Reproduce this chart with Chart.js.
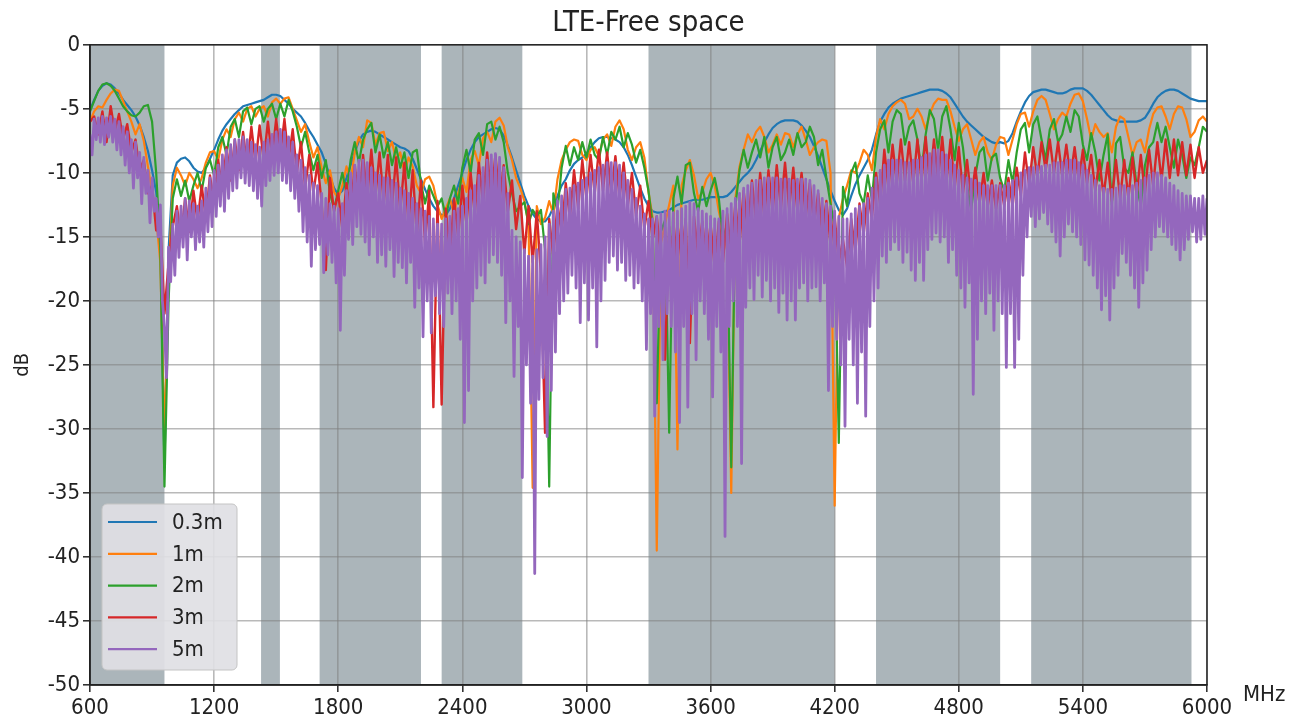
<!DOCTYPE html>
<html><head><meta charset="utf-8">
<script src="https://cdn.jsdelivr.net/npm/chart.js@4.4.1/dist/chart.umd.min.js"></script>
<style>html,body{margin:0;padding:0;background:#fff;}canvas{display:block;}</style>
</head><body>
<canvas id="c" width="1305" height="719"></canvas>
<script>
const FONT = '"DejaVu Sans Condensed", "DejaVu Sans", sans-serif';

// Frequency grid (MHz), 20 MHz step
const freqs = [
600,620,640,660,680,700,720,740,760,780,
800,820,840,860,880,900,920,940,960,980,
1000,1020,1040,1060,1080,1100,1120,1140,1160,1180,
1200,1220,1240,1260,1280,1300,1320,1340,1360,1380,
1400,1420,1440,1460,1480,1500,1520,1540,1560,1580,
1600,1620,1640,1660,1680,1700,1720,1740,1760,1780,
1800,1820,1840,1860,1880,1900,1920,1940,1960,1980,
2000,2020,2040,2060,2080,2100,2120,2140,2160,2180,
2200,2220,2240,2260,2280,2300,2320,2340,2360,2380,
2400,2420,2440,2460,2480,2500,2520,2540,2560,2580,
2600,2620,2640,2660,2680,2700,2720,2740,2760,2780,
2800,2820,2840,2860,2880,2900,2920,2940,2960,2980,
3000,3020,3040,3060,3080,3100,3120,3140,3160,3180,
3200,3220,3240,3260,3280,3300,3320,3340,3360,3380,
3400,3420,3440,3460,3480,3500,3520,3540,3560,3580,
3600,3620,3640,3660,3680,3700,3720,3740,3760,3780,
3800,3820,3840,3860,3880,3900,3920,3940,3960,3980,
4000,4020,4040,4060,4080,4100,4120,4140,4160,4180,
4200,4220,4240,4260,4280,4300,4320,4340,4360,4380,
4400,4420,4440,4460,4480,4500,4520,4540,4560,4580,
4600,4620,4640,4660,4680,4700,4720,4740,4760,4780,
4800,4820,4840,4860,4880,4900,4920,4940,4960,4980,
5000,5020,5040,5060,5080,5100,5120,5140,5160,5180,
5200,5220,5240,5260,5280,5300,5320,5340,5360,5380,
5400,5420,5440,5460,5480,5500,5520,5540,5560,5580,
5600,5620,5640,5660,5680,5700,5720,5740,5760,5780,
5800,5820,5840,5860,5880,5900,5920,5940,5960,5980,
6000];

// Finer grid (MHz), 10 MHz step, for the 5m trace
const freqsFine = [
600,610,620,630,640,650,660,670,680,690,700,710,720,730,740,750,760,770,780,790,
800,810,820,830,840,850,860,870,880,890,900,910,920,930,940,950,960,970,980,990,
1000,1010,1020,1030,1040,1050,1060,1070,1080,1090,1100,1110,1120,1130,1140,1150,1160,1170,1180,1190,
1200,1210,1220,1230,1240,1250,1260,1270,1280,1290,1300,1310,1320,1330,1340,1350,1360,1370,1380,1390,
1400,1410,1420,1430,1440,1450,1460,1470,1480,1490,1500,1510,1520,1530,1540,1550,1560,1570,1580,1590,
1600,1610,1620,1630,1640,1650,1660,1670,1680,1690,1700,1710,1720,1730,1740,1750,1760,1770,1780,1790,
1800,1810,1820,1830,1840,1850,1860,1870,1880,1890,1900,1910,1920,1930,1940,1950,1960,1970,1980,1990,
2000,2010,2020,2030,2040,2050,2060,2070,2080,2090,2100,2110,2120,2130,2140,2150,2160,2170,2180,2190,
2200,2210,2220,2230,2240,2250,2260,2270,2280,2290,2300,2310,2320,2330,2340,2350,2360,2370,2380,2390,
2400,2410,2420,2430,2440,2450,2460,2470,2480,2490,2500,2510,2520,2530,2540,2550,2560,2570,2580,2590,
2600,2610,2620,2630,2640,2650,2660,2670,2680,2690,2700,2710,2720,2730,2740,2750,2760,2770,2780,2790,
2800,2810,2820,2830,2840,2850,2860,2870,2880,2890,2900,2910,2920,2930,2940,2950,2960,2970,2980,2990,
3000,3010,3020,3030,3040,3050,3060,3070,3080,3090,3100,3110,3120,3130,3140,3150,3160,3170,3180,3190,
3200,3210,3220,3230,3240,3250,3260,3270,3280,3290,3300,3310,3320,3330,3340,3350,3360,3370,3380,3390,
3400,3410,3420,3430,3440,3450,3460,3470,3480,3490,3500,3510,3520,3530,3540,3550,3560,3570,3580,3590,
3600,3610,3620,3630,3640,3650,3660,3670,3680,3690,3700,3710,3720,3730,3740,3750,3760,3770,3780,3790,
3800,3810,3820,3830,3840,3850,3860,3870,3880,3890,3900,3910,3920,3930,3940,3950,3960,3970,3980,3990,
4000,4010,4020,4030,4040,4050,4060,4070,4080,4090,4100,4110,4120,4130,4140,4150,4160,4170,4180,4190,
4200,4210,4220,4230,4240,4250,4260,4270,4280,4290,4300,4310,4320,4330,4340,4350,4360,4370,4380,4390,
4400,4410,4420,4430,4440,4450,4460,4470,4480,4490,4500,4510,4520,4530,4540,4550,4560,4570,4580,4590,
4600,4610,4620,4630,4640,4650,4660,4670,4680,4690,4700,4710,4720,4730,4740,4750,4760,4770,4780,4790,
4800,4810,4820,4830,4840,4850,4860,4870,4880,4890,4900,4910,4920,4930,4940,4950,4960,4970,4980,4990,
5000,5010,5020,5030,5040,5050,5060,5070,5080,5090,5100,5110,5120,5130,5140,5150,5160,5170,5180,5190,
5200,5210,5220,5230,5240,5250,5260,5270,5280,5290,5300,5310,5320,5330,5340,5350,5360,5370,5380,5390,
5400,5410,5420,5430,5440,5450,5460,5470,5480,5490,5500,5510,5520,5530,5540,5550,5560,5570,5580,5590,
5600,5610,5620,5630,5640,5650,5660,5670,5680,5690,5700,5710,5720,5730,5740,5750,5760,5770,5780,5790,
5800,5810,5820,5830,5840,5850,5860,5870,5880,5890,5900,5910,5920,5930,5940,5950,5960,5970,5980,5990,
6000];

// Series (dB)
const s03m = [
-5.1,-4.3,-3.6,-3.2,-3.0,-3.1,-3.4,-3.8,-4.3,-4.7,
-5.1,-5.6,-6.3,-7.2,-8.3,-9.8,-11.5,-15.0,-33.0,-16.0,
-10.2,-9.2,-8.9,-8.8,-9.1,-9.6,-9.9,-10.0,-9.6,-8.9,
-8.2,-7.4,-6.7,-6.2,-5.8,-5.4,-5.1,-4.8,-4.7,-4.6,
-4.5,-4.4,-4.3,-4.1,-3.9,-3.9,-4.0,-4.3,-4.6,-5.0,
-5.3,-5.6,-6.1,-6.7,-7.2,-7.8,-8.4,-9.3,-10.3,-11.2,
-11.7,-11.4,-10.4,-9.4,-8.4,-7.5,-7.0,-6.8,-6.7,-6.8,
-7.0,-7.2,-7.4,-7.6,-7.8,-8.0,-8.1,-8.3,-8.9,-9.7,
-10.5,-11.3,-12.0,-12.6,-13.0,-13.3,-13.3,-12.8,-12.0,-11.0,
-10.0,-9.0,-8.2,-7.6,-7.2,-7.0,-6.8,-6.6,-6.5,-6.6,
-7.1,-7.9,-8.8,-9.8,-10.8,-11.8,-12.6,-13.2,-13.6,-13.8,
-13.8,-13.4,-12.7,-11.8,-11.0,-10.5,-9.8,-9.3,-9.0,-8.8,
-8.5,-8.0,-7.6,-7.3,-7.2,-7.2,-7.3,-7.4,-7.6,-8.0,
-8.6,-9.4,-10.3,-11.2,-12.0,-12.6,-13.0,-13.1,-13.1,-13.0,
-12.9,-12.7,-12.5,-12.4,-12.3,-12.2,-12.1,-12.1,-12.1,-12.0,
-11.9,-11.9,-11.9,-11.9,-11.8,-11.5,-11.1,-10.7,-10.3,-10.0,
-9.6,-9.0,-8.3,-7.6,-7.0,-6.5,-6.2,-6.0,-5.9,-5.9,
-5.9,-6.0,-6.3,-6.7,-7.2,-7.9,-8.7,-9.6,-10.5,-11.4,
-12.2,-12.9,-13.3,-12.8,-11.8,-10.9,-10.2,-9.6,-9.0,-8.2,
-7.0,-6.0,-5.4,-4.9,-4.6,-4.4,-4.2,-4.1,-4.0,-3.9,
-3.8,-3.7,-3.6,-3.5,-3.5,-3.5,-3.6,-3.8,-4.1,-4.6,
-5.1,-5.6,-6.0,-6.3,-6.6,-6.9,-7.2,-7.4,-7.6,-7.7,
-7.6,-7.7,-7.5,-6.9,-6.0,-5.2,-4.5,-4.0,-3.7,-3.6,
-3.5,-3.5,-3.6,-3.7,-3.8,-3.8,-3.7,-3.5,-3.4,-3.4,
-3.4,-3.6,-3.9,-4.3,-4.7,-5.1,-5.5,-5.8,-5.9,-6.0,
-6.0,-6.0,-6.0,-6.0,-5.9,-5.7,-5.2,-4.6,-4.1,-3.8,
-3.6,-3.5,-3.5,-3.6,-3.8,-4.0,-4.2,-4.3,-4.4,-4.4,
-4.4];

const s1m = [
-6.0,-5.2,-4.8,-4.9,-4.3,-3.8,-3.5,-3.6,-4.4,-5.2,
-6.0,-7.0,-6.2,-7.5,-9.5,-11.5,-13.5,-17.0,-31.0,-18.0,
-11.0,-9.6,-10.2,-11.0,-10.0,-10.5,-11.2,-10.4,-9.2,-8.4,
-8.3,-9.0,-7.4,-6.6,-7.2,-5.8,-5.3,-6.0,-5.0,-4.8,
-5.6,-5.0,-4.8,-5.6,-4.5,-4.2,-4.6,-4.2,-4.1,-5.0,
-5.9,-6.8,-6.2,-7.6,-8.8,-8.0,-9.6,-10.8,-9.8,-11.5,
-12.0,-11.0,-9.5,-10.6,-8.4,-7.2,-8.0,-5.9,-6.1,-7.8,
-6.9,-6.8,-8.3,-7.6,-9.0,-8.4,-10.0,-8.8,-9.5,-11.0,
-11.6,-10.5,-10.3,-11.0,-12.5,-13.6,-12.8,-12.0,-13.2,-11.6,
-10.4,-11.5,-9.0,-8.3,-9.4,-7.3,-6.8,-7.6,-6.0,-5.7,
-6.3,-8.0,-9.0,-10.4,-11.2,-12.2,-14.0,-34.6,-12.6,-14.0,
-13.5,-12.2,-13.2,-10.5,-9.0,-8.2,-7.6,-7.4,-7.5,-8.6,
-9.0,-8.2,-8.0,-8.7,-7.4,-7.0,-7.9,-6.4,-5.9,-6.6,
-8.2,-9.0,-8.0,-7.6,-8.8,-11.5,-13.5,-39.5,-15.5,-14.0,
-12.5,-11.0,-31.6,-11.0,-9.8,-9.0,-10.2,-12.0,-11.5,-10.5,
-10.0,-11.0,-13.0,-14.5,-16.0,-35.0,-12.0,-9.5,-8.2,-7.0,
-7.6,-6.8,-6.4,-7.2,-8.4,-7.8,-7.0,-7.8,-6.9,-7.0,
-8.0,-7.0,-6.4,-7.4,-8.6,-8.0,-7.6,-7.4,-7.5,-10.0,
-36.0,-13.5,-12.0,-11.0,-9.8,-10.0,-9.2,-8.2,-8.6,-9.8,
-7.2,-5.8,-6.6,-5.4,-4.8,-4.5,-4.3,-4.6,-5.8,-5.6,
-5.0,-5.6,-6.6,-5.4,-4.6,-4.2,-4.3,-4.3,-5.2,-6.4,
-7.5,-6.6,-6.2,-7.4,-8.6,-7.6,-7.2,-8.4,-9.0,-7.8,
-7.2,-7.3,-8.6,-7.4,-6.2,-5.4,-5.3,-6.4,-5.2,-4.3,
-4.0,-4.3,-5.4,-6.6,-5.8,-5.3,-5.6,-4.6,-3.9,-3.8,
-4.4,-5.8,-7.4,-6.2,-6.8,-7.2,-6.9,-8.4,-6.4,-5.6,
-5.8,-7.2,-8.6,-7.6,-7.4,-8.4,-6.6,-5.4,-4.9,-4.8,
-5.6,-6.6,-5.4,-4.8,-4.9,-5.8,-7.2,-6.8,-5.9,-5.6,
-6.0];

const s2m = [
-5.2,-4.4,-3.6,-3.1,-3.0,-3.2,-3.6,-4.2,-4.8,-5.2,
-5.5,-5.6,-5.3,-4.8,-4.7,-6.0,-10.0,-16.0,-34.5,-20.0,
-12.0,-10.5,-11.8,-10.6,-12.2,-11.0,-10.0,-11.4,-9.6,-9.0,
-10.2,-8.0,-7.2,-8.6,-6.4,-5.8,-7.2,-5.2,-4.9,-6.2,
-5.0,-4.8,-6.0,-5.0,-4.6,-5.8,-4.6,-5.6,-4.3,-5.2,
-6.4,-8.0,-6.8,-8.4,-9.8,-8.6,-10.4,-9.0,-11.6,-12.8,
-11.4,-10.0,-11.6,-9.0,-7.6,-9.2,-7.4,-6.6,-6.1,-8.4,
-7.0,-8.8,-7.6,-9.4,-8.0,-9.6,-8.4,-10.4,-8.4,-8.2,
-10.8,-12.4,-11.0,-11.8,-12.6,-12.0,-13.4,-12.0,-11.0,-12.4,
-9.6,-8.2,-10.0,-7.4,-6.9,-8.6,-6.2,-6.0,-7.4,-6.4,
-7.6,-10.0,-11.6,-13.0,-12.6,-12.3,-14.0,-12.9,-13.4,-12.9,
-16.0,-34.5,-11.6,-13.0,-9.6,-7.9,-9.4,-8.0,-9.0,-7.6,
-8.8,-7.4,-8.6,-9.0,-7.2,-8.6,-6.8,-7.4,-6.4,-8.0,
-6.9,-7.8,-9.2,-8.2,-9.6,-11.4,-14.0,-28.0,-14.6,-13.7,
-30.3,-12.0,-10.3,-12.4,-9.4,-9.2,-11.6,-13.0,-11.1,-12.6,
-11.4,-10.4,-12.0,-15.2,-14.0,-33.0,-12.6,-9.8,-8.2,-9.6,
-8.4,-7.4,-8.8,-7.2,-9.6,-8.0,-7.2,-9.0,-8.4,-7.4,
-8.6,-6.9,-8.0,-7.6,-6.4,-7.2,-9.4,-8.2,-10.4,-12.4,
-14.2,-31.1,-11.1,-12.6,-10.0,-9.2,-11.6,-12.4,-10.2,-12.1,
-8.4,-6.6,-5.9,-8.4,-6.0,-5.1,-5.4,-7.8,-6.4,-5.9,
-7.4,-9.8,-7.0,-5.1,-5.8,-8.2,-5.6,-4.8,-6.6,-9.0,
-6.1,-8.0,-11.0,-12.9,-10.2,-8.4,-8.0,-10.6,-8.8,-8.5,
-10.4,-11.4,-9.0,-10.8,-8.4,-6.6,-6.1,-8.4,-6.2,-5.6,
-7.4,-9.0,-6.6,-5.8,-7.6,-7.0,-5.6,-6.8,-5.1,-5.6,
-7.8,-9.0,-6.9,-8.4,-10.6,-8.6,-7.0,-12.5,-7.7,-7.2,
-9.6,-10.0,-8.4,-11.0,-12.6,-9.4,-8.0,-7.6,-6.1,-7.6,
-6.4,-8.0,-9.6,-7.4,-8.6,-10.4,-8.8,-9.4,-8.0,-6.4,
-6.8];

const s3m = [
-6.0,-5.6,-7.0,-5.2,-7.6,-4.8,-6.8,-5.4,-7.4,-6.2,
-8.4,-7.4,-9.8,-9.0,-11.6,-11.0,-14.5,-14.0,-21.0,-17.0,
-14.2,-12.6,-15.0,-12.0,-14.6,-11.4,-13.8,-11.0,-13.6,-10.2,
-12.4,-9.0,-11.4,-8.0,-10.6,-7.4,-9.8,-6.8,-9.6,-6.4,
-9.2,-6.3,-9.0,-6.0,-8.8,-5.8,-8.6,-5.8,-9.0,-6.6,
-10.0,-7.6,-11.2,-8.6,-11.6,-9.2,-12.4,-17.6,-10.4,-13.0,
-11.6,-14.4,-10.8,-13.2,-9.4,-12.6,-8.6,-12.0,-8.2,-11.8,
-8.4,-12.4,-8.6,-12.6,-8.8,-13.0,-9.2,-14.0,-9.8,-14.8,
-10.6,-15.6,-11.4,-28.3,-12.2,-28.1,-12.8,-16.4,-12.0,-15.0,
-11.0,-14.0,-10.0,-13.2,-9.2,-12.4,-8.4,-12.0,-8.6,-12.2,
-9.4,-13.0,-10.6,-14.4,-11.8,-16.3,-12.6,-17.0,-13.0,-18.0,
-30.3,-13.6,-16.6,-12.4,-14.8,-10.8,-13.6,-9.8,-12.8,-9.0,
-12.0,-8.6,-11.6,-8.2,-11.4,-8.4,-11.6,-8.7,-12.0,-9.2,
-12.6,-10.0,-13.4,-11.0,-14.4,-12.2,-15.2,-13.4,-16.6,-24.6,
-14.2,-17.4,-14.0,-16.8,-13.6,-23.3,-13.4,-16.4,-13.8,-17.0,
-14.0,-17.4,-13.8,-17.0,-13.2,-16.4,-12.4,-15.6,-11.4,-14.6,
-10.6,-13.8,-10.0,-13.4,-9.8,-13.0,-9.4,-12.8,-9.2,-12.8,
-9.6,-13.0,-10.0,-13.4,-10.8,-14.0,-11.6,-14.8,-12.2,-15.6,
-13.4,-17.0,-15.2,-17.4,-13.6,-16.2,-12.4,-14.8,-11.6,-13.6,
-10.0,-12.4,-8.2,-11.2,-7.8,-10.8,-7.4,-10.6,-7.6,-10.8,
-7.4,-10.6,-7.2,-10.8,-7.4,-10.6,-7.2,-10.8,-7.4,-11.2,
-8.0,-11.6,-9.0,-12.0,-9.6,-12.4,-10.0,-12.6,-10.6,-12.8,
-10.8,-12.6,-10.4,-12.6,-9.6,-11.8,-8.4,-11.0,-8.0,-10.4,
-7.6,-9.8,-7.4,-10.0,-7.6,-10.2,-7.8,-10.4,-8.0,-10.6,
-8.2,-10.8,-8.6,-11.4,-9.0,-11.8,-9.2,-12.2,-9.0,-12.0,
-9.0,-12.0,-8.8,-11.8,-8.6,-11.6,-8.2,-11.0,-7.6,-10.6,
-7.4,-10.4,-7.4,-10.2,-7.6,-10.2,-7.8,-10.4,-8.0,-10.0,
-9.0];

// 5m trace on the 10 MHz grid
const s5m = [
-7.0,-8.6,-5.8,-7.4,-5.7,-7.6,-5.6,-7.8,-5.7,-7.2,-5.6,-7.6,-5.8,-8.2,-6.0,-8.6,-6.4,-9.4,-6.8,-10.0,
-7.4,-11.2,-7.6,-10.4,-8.4,-12.4,-8.8,-11.6,-9.8,-13.9,-10.4,-13.0,-12.0,-15.0,-12.5,-20.0,-22.0,-26.0,-15.8,-18.5,
-14.0,-18.0,-13.0,-16.6,-12.6,-15.8,-12.0,-16.8,-12.2,-15.0,-12.4,-16.0,-12.6,-15.4,-12.2,-15.8,-11.2,-14.6,-10.4,-14.2,
-9.8,-13.4,-9.4,-12.6,-8.6,-13.0,-8.2,-12.0,-7.8,-11.4,-7.4,-11.2,-7.4,-10.4,-7.2,-10.8,-7.4,-11.0,-7.6,-11.4,
-7.8,-12.0,-8.0,-12.6,-7.6,-11.0,-7.4,-10.6,-7.0,-10.2,-6.8,-10.0,-6.6,-10.6,-6.8,-10.8,-7.2,-11.4,-7.6,-12.0,
-8.6,-13.0,-9.0,-14.6,-9.6,-15.4,-10.2,-17.3,-10.8,-16.0,-11.0,-15.6,-11.6,-17.8,-12.0,-16.4,-12.4,-17.0,-12.6,-18.6,
-12.8,-22.3,-12.4,-18.0,-11.4,-15.2,-10.0,-15.6,-9.4,-14.2,-9.0,-14.8,-9.0,-15.4,-9.2,-16.4,-9.6,-15.0,-10.0,-17.0,
-10.2,-16.4,-10.4,-17.3,-10.4,-16.0,-10.6,-18.1,-10.8,-17.0,-11.2,-17.4,-11.4,-18.6,-11.6,-17.0,-12.0,-20.5,-12.4,-19.0,
-12.8,-22.8,-13.0,-20.0,-13.4,-22.5,-13.6,-19.6,-14.0,-21.0,-14.0,-22.0,-13.6,-19.4,-13.4,-21.0,-13.0,-20.0,-12.8,-23.0,
-12.6,-29.5,-12.0,-27.0,-11.4,-20.0,-11.0,-19.0,-10.2,-18.0,-9.6,-18.6,-9.0,-17.0,-8.6,-16.4,-8.5,-17.0,-8.8,-18.0,
-9.6,-21.7,-11.6,-20.0,-14.5,-25.9,-15.0,-22.0,-15.4,-33.8,-16.0,-25.0,-16.5,-28.0,-16.5,-41.3,-16.0,-27.7,-15.6,-26.0,
-15.0,-30.6,-14.0,-27.0,-13.0,-24.0,-12.2,-21.0,-11.8,-20.0,-11.3,-19.4,-11.2,-18.0,-11.0,-19.0,-10.8,-21.7,-10.6,-18.6,
-10.4,-21.5,-10.0,-19.0,-9.8,-23.6,-9.6,-20.0,-9.4,-18.4,-9.2,-17.0,-9.2,-16.5,-9.2,-17.6,-9.4,-17.0,-10.0,-18.4,
-10.6,-18.0,-11.3,-19.0,-12.0,-18.6,-12.6,-20.0,-13.2,-23.8,-13.6,-21.0,-13.6,-29.0,-13.4,-22.0,-13.2,-24.6,-13.0,-21.0,
-13.0,-22.0,-13.1,-24.0,-13.0,-29.5,-12.8,-22.0,-12.6,-28.3,-12.3,-21.0,-12.4,-24.6,-12.8,-20.0,-13.0,-21.0,-13.2,-23.0,
-13.4,-27.5,-13.6,-22.0,-13.6,-24.0,-13.0,-38.4,-12.8,-22.0,-12.4,-20.0,-12.0,-22.0,-11.6,-32.7,-11.2,-20.5,-11.0,-19.0,
-10.8,-19.9,-10.6,-18.0,-10.6,-19.7,-10.4,-18.4,-10.4,-20.0,-10.4,-19.0,-10.4,-20.9,-10.5,-19.4,-10.5,-21.5,-10.5,-20.0,
-10.6,-21.5,-10.5,-19.0,-10.5,-18.6,-10.5,-20.0,-10.6,-19.0,-11.0,-18.9,-11.4,-20.0,-12.0,-18.6,-12.4,-27.0,-12.6,-22.0,
-13.0,-23.0,-13.4,-25.0,-13.6,-29.8,-13.6,-23.0,-13.2,-25.0,-12.8,-28.0,-12.6,-24.0,-12.4,-29.0,-12.0,-22.0,-11.2,-20.0,
-10.4,-19.0,-9.8,-16.5,-9.4,-17.0,-9.0,-16.0,-9.0,-15.4,-9.0,-16.0,-9.0,-17.0,-9.2,-16.2,-9.2,-17.6,-9.0,-18.4,
-9.0,-17.0,-8.8,-18.4,-8.6,-16.0,-8.5,-15.2,-8.2,-14.7,-8.2,-15.4,-8.4,-15.0,-8.6,-17.0,-9.0,-16.0,-9.4,-18.0,
-9.8,-19.0,-10.2,-20.5,-10.4,-18.6,-10.5,-27.3,-10.6,-23.0,-10.8,-20.0,-11.0,-21.0,-11.0,-19.4,-11.0,-22.3,-11.0,-20.0,
-11.0,-21.0,-11.0,-25.2,-10.8,-21.0,-10.6,-25.2,-10.4,-23.0,-10.0,-18.0,-9.8,-15.0,-9.6,-13.4,-9.6,-14.2,-9.5,-13.6,
-9.5,-13.1,-9.4,-14.0,-9.4,-14.6,-9.2,-15.4,-9.2,-16.5,-9.2,-15.0,-9.0,-14.0,-9.0,-14.6,-9.0,-15.0,-9.2,-15.6,
-9.4,-16.8,-9.8,-17.2,-10.2,-18.0,-10.6,-19.0,-11.0,-20.7,-11.2,-19.6,-11.3,-21.5,-11.3,-19.0,-11.2,-18.0,-11.0,-16.3,
-11.0,-17.0,-11.2,-18.0,-11.0,-19.0,-10.8,-20.5,-10.6,-18.6,-10.4,-17.6,-10.2,-16.0,-10.0,-15.0,-10.0,-14.2,-10.2,-14.6,
-10.4,-15.0,-10.8,-15.6,-11.0,-16.0,-11.4,-16.8,-11.6,-16.0,-11.8,-15.2,-11.8,-14.6,-12.0,-15.4,-12.0,-15.2,-11.8,-14.8,
-12.0];

const seriesLabels = ['0.3m', '1m', '2m', '3m', '5m'];
const seriesColors = ['#1f77b4', '#ff7f0e', '#2ca02c', '#d62728', '#9467bd'];

// LTE band ranges (MHz)
const bandStarts = [600, 1427, 1710, 2300, 3300, 4400, 5150];
const bandEnds   = [960, 1518, 2200, 2690, 4200, 5000, 5925];

const xTicks = [600, 1200, 1800, 2400, 3000, 3600, 4200, 4800, 5400, 6000];
const yTicks = [0, -5, -10, -15, -20, -25, -30, -35, -40, -45, -50];

const allSeries = [s03m, s1m, s2m, s3m, s5m];
const allGrids  = [freqs, freqs, freqs, freqs, freqsFine];
const lineWidths = [2.2, 2.2, 2.2, 2.4, 2.8];
const toPts = (grid, vals) => grid.map((f, i) => ({x: f, y: vals[i]}));

const bandsPlugin = {
  id: 'bands',
  beforeDraw(chart) {
    const {ctx, chartArea: a, scales: {x}} = chart;
    ctx.save();
    ctx.fillStyle = '#abb5ba';
    bandStarts.forEach((s, i) => {
      const x0 = x.getPixelForValue(s), x1 = x.getPixelForValue(bandEnds[i]);
      ctx.fillRect(x0, a.top, x1 - x0, a.bottom - a.top);
    });
    ctx.restore();
  }
};

const framePlugin = {
  id: 'frame',
  afterDatasetsDraw(chart) {
    const {ctx, chartArea: a} = chart;
    ctx.save();
    ctx.strokeStyle = '#222';
    ctx.lineWidth = 1.5;
    ctx.strokeRect(a.left, a.top, a.right - a.left, a.bottom - a.top);
    ctx.restore();
  }
};

const unitPlugin = {
  id: 'unit',
  afterDraw(chart) {
    const {ctx, chartArea: a} = chart;
    const items = chart.scales.x.getLabelItems();
    const last = items[items.length - 1];
    ctx.save();
    ctx.font = '22px ' + FONT;
    ctx.fillStyle = '#222';
    ctx.textAlign = 'left';
    ctx.textBaseline = last.options.textBaseline;
    ctx.fillText('MHz', a.right + 36, last.options.translation[1]);
    ctx.restore();
  }
};

const legendPlugin = {
  id: 'boxLegend',
  afterDraw(chart) {
    const {ctx, chartArea: a} = chart;
    const x = a.left + 12, y = a.bottom - 181, w = 135, h = 166, r = 5;
    ctx.save();
    ctx.beginPath();
    ctx.moveTo(x + r, y);
    ctx.lineTo(x + w - r, y); ctx.arcTo(x + w, y, x + w, y + r, r);
    ctx.lineTo(x + w, y + h - r); ctx.arcTo(x + w, y + h, x + w - r, y + h, r);
    ctx.lineTo(x + r, y + h); ctx.arcTo(x, y + h, x, y + h - r, r);
    ctx.lineTo(x, y + r); ctx.arcTo(x, y, x + r, y, r);
    ctx.closePath();
    ctx.fillStyle = 'rgba(224,224,228,0.92)';
    ctx.fill();
    ctx.strokeStyle = '#c4c4c4';
    ctx.lineWidth = 1;
    ctx.stroke();
    ctx.font = '22px ' + FONT;
    ctx.textBaseline = 'middle';
    ctx.textAlign = 'left';
    chart.data.datasets.forEach((ds, i) => {
      const yy = y + 18 + i * 31.8;
      ctx.strokeStyle = ds.borderColor;
      ctx.lineWidth = 2.2;
      ctx.beginPath(); ctx.moveTo(x + 6, yy); ctx.lineTo(x + 55, yy); ctx.stroke();
      ctx.fillStyle = '#222';
      ctx.fillText(ds.label, x + 70, yy + 1);
    });
    ctx.restore();
  }
};

new Chart(document.getElementById('c'), {
  type: 'line',
  data: {
    datasets: allSeries.map((vals, i) => ({
      label: seriesLabels[i],
      data: toPts(allGrids[i], vals),
      borderColor: seriesColors[i],
      backgroundColor: seriesColors[i],
      borderWidth: lineWidths[i],
      pointRadius: 0,
      tension: 0,
      fill: false,
      borderJoinStyle: 'round',
      order: allSeries.length - i
    }))
  },
  options: {
    responsive: false,
    animation: false,
    devicePixelRatio: 1,
    layout: {padding: {left: 0, right: 8, top: 0, bottom: 0}},
    plugins: {
      legend: {display: false},
      tooltip: {enabled: false},
      title: {
        display: true,
        text: 'LTE-Free space',
        color: '#222',
        font: {family: FONT, size: 29, weight: 'normal'},
        padding: {top: 6, bottom: 4}
      }
    },
    scales: {
      x: {
        type: 'linear',
        min: 600, max: 6000,
        afterBuildTicks(s) { s.ticks = xTicks.map(v => ({value: v})); },
        afterFit(s) { s.height = 34; s.paddingLeft = 0; s.paddingRight = 0; },
        ticks: {color: '#222', font: {family: FONT, size: 22}, padding: 3, maxRotation: 0, autoSkip: false,
                callback: v => String(v)},
        grid: {color: 'rgba(128,128,128,0.55)', lineWidth: 1.6, drawTicks: true, tickLength: 7, tickColor: '#333'},
        border: {display: true, color: '#222', width: 1.5}
      },
      y: {
        type: 'linear',
        min: -50, max: 0,
        afterBuildTicks(s) { s.ticks = yTicks.map(v => ({value: v})); },
        afterFit(s) { s.width = 90; s.paddingTop = 0; s.paddingBottom = 0; },
        ticks: {color: '#222', font: {family: FONT, size: 22}, padding: 3},
        grid: {color: 'rgba(128,128,128,0.55)', lineWidth: 1.6, drawTicks: true, tickLength: 7, tickColor: '#333'},
        border: {display: true, color: '#222', width: 1.5},
        title: {display: true, text: 'dB', color: '#222', font: {family: FONT, size: 20}, padding: {top: 11, bottom: 0}}
      },
      yRight: {
        type: 'linear',
        position: 'right',
        min: -50, max: 0,
        display: true,
        afterFit(s) { s.width = 90; s.paddingTop = 0; s.paddingBottom = 0; },
        ticks: {display: false},
        grid: {display: false, drawTicks: false},
        border: {display: false}
      }
    }
  },
  plugins: [bandsPlugin, framePlugin, unitPlugin, legendPlugin]
});
</script>
</body></html>
